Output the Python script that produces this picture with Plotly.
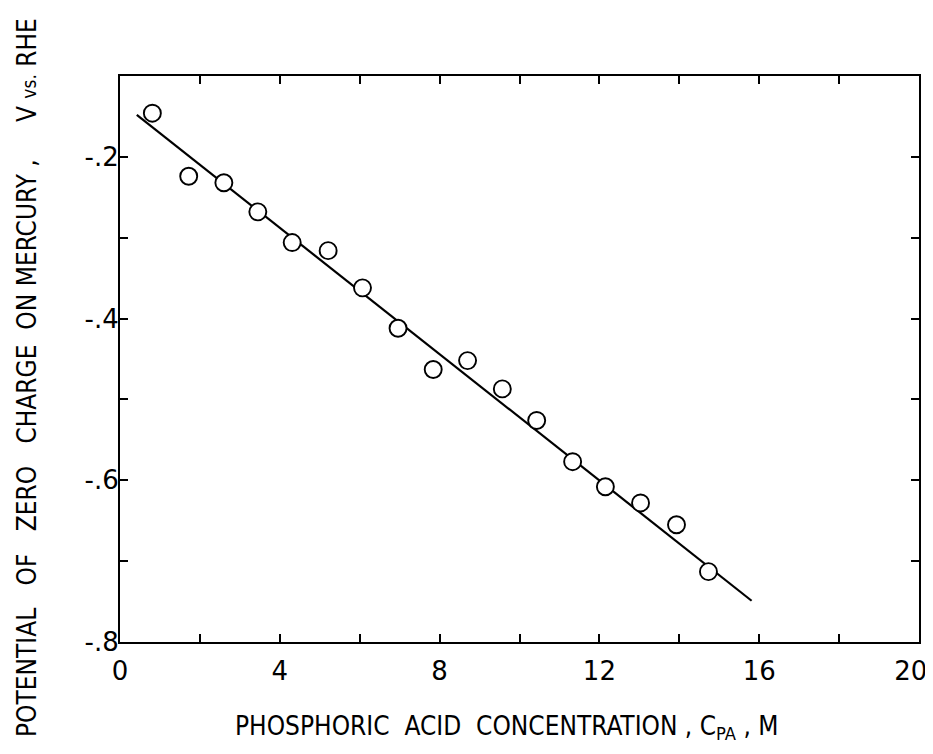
import plotly.graph_objects as go

# Data
conc_M = [0.81, 1.72, 2.60, 3.45, 4.31, 5.21, 6.07, 6.96, 7.84, 8.70,
          9.57, 10.43, 11.33, 12.15, 13.03, 13.93, 14.73]
pzc_V = [-0.146, -0.224, -0.232, -0.268, -0.306, -0.316, -0.362, -0.412, -0.463, -0.452,
         -0.487, -0.526, -0.577, -0.608, -0.628, -0.655, -0.713]
fit_x = [0.42, 15.81]
fit_y = [-0.148, -0.749]

x_tickvals = [0, 4, 8, 12, 16, 20]
x_ticktext = ["0", "4", "8", "12", "16", "20&nbsp;&nbsp;"]
y_tickvals = [-0.8, -0.6, -0.4, -0.2]
y_ticktext = ["-.8", "-.6", "-.4", "-.2"]

FONT = "Liberation Sans Narrow, DejaVu Sans Condensed, Arial Narrow, sans-serif"
TICKFONT = "DejaVu Sans, Liberation Sans, sans-serif"

fig = go.Figure()
fig.add_trace(go.Scatter(x=fit_x, y=fit_y, mode="lines",
                         line=dict(color="black", width=2.2), showlegend=False))
fig.add_trace(go.Scatter(x=conc_M, y=pzc_V, mode="markers",
                         marker=dict(symbol="circle", size=17, color="white",
                                     line=dict(color="black", width=1.9)),
                         showlegend=False))

# page body has an 8px margin, so the figure is drawn smaller and shifted
fig.update_layout(
    width=925, height=738,
    margin=dict(l=112, r=14, t=68, b=104, autoexpand=False),
    paper_bgcolor="white", plot_bgcolor="white",
    font=dict(family=TICKFONT, color="black"),
    xaxis=dict(range=[0, 20], tickvals=x_tickvals, ticktext=x_ticktext,
               ticks="inside", ticklen=8, tickwidth=1.5, tickcolor="black",
               minor=dict(dtick=2, tick0=0, ticks="inside", ticklen=8, tickwidth=1.5,
                          tickcolor="black", showgrid=False),
               showline=True, linecolor="black", linewidth=2, mirror="ticks",
               showgrid=False, zeroline=False, ticklabeloverflow="allow",
               automargin=False,
               tickfont=dict(size=26, family=TICKFONT), ticklabelstandoff=5),
    yaxis=dict(range=[-0.8, -0.1], tickvals=y_tickvals, ticktext=y_ticktext,
               ticks="inside", ticklen=8, tickwidth=1.5, tickcolor="black",
               minor=dict(dtick=0.1, tick0=0, ticks="inside", ticklen=8, tickwidth=1.5,
                          tickcolor="black", showgrid=False),
               showline=True, linecolor="black", linewidth=2, mirror="ticks",
               showgrid=False, zeroline=False, automargin=False,
               tickfont=dict(size=26, family=TICKFONT), ticklabelstandoff=-6),
)

fig.add_annotation(
    text="PHOSPHORIC&nbsp;&nbsp;ACID&nbsp;&nbsp;CONCENTRATION&nbsp;,&nbsp;C<sub>PA</sub>&nbsp;,&nbsp;M",
    xref="paper", yref="paper", x=(506 - 120) / 799, y=-(727 - 642) / 566,
    xanchor="center", yanchor="middle", showarrow=False,
    font=dict(family=FONT, size=26, color="black"))

fig.add_annotation(
    text="POTENTIAL&nbsp;&nbsp;&nbsp;OF&nbsp;&nbsp;&nbsp;ZERO&nbsp;&nbsp;&nbsp;CHARGE&nbsp;&nbsp;ON&nbsp;MERCURY&nbsp;,&nbsp;&nbsp;&nbsp;&nbsp;&nbsp;V&nbsp;<span style='font-size:19px'>vs.</span>&nbsp;RHE",
    xref="paper", yref="paper", x=-(120 - 27) / 799, y=(642 - 378) / 566,
    xanchor="center", yanchor="middle", textangle=-90, showarrow=False,
    font=dict(family=FONT, size=26, color="black"))

fig.write_html("out.html")
